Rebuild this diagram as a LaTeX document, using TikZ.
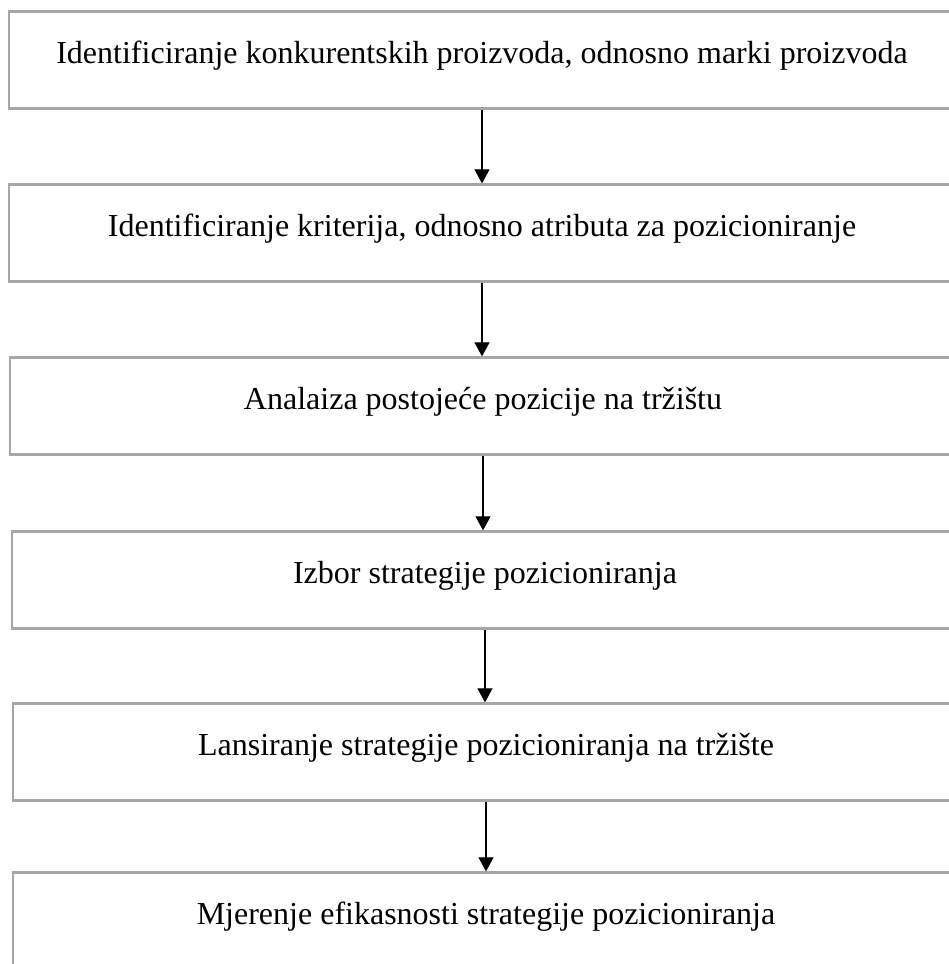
\documentclass[tikz,border=0pt]{standalone}
\usepackage{fontspec}
\setmainfont{Liberation Serif}
\usepackage{tikz}
\usetikzlibrary{arrows.meta}
\definecolor{boxgrey}{HTML}{A6A6A6}

\begin{document}
\begin{tikzpicture}[x=1pt,y=-1pt,
  stepbox/.style={draw=boxgrey,line width=2.3pt,minimum width=946pt,
    minimum height=97pt,inner sep=0pt,font=\fontsize{32}{38}\selectfont,
    text height=22pt,text depth=16pt},
  flow/.style={-{Triangle[length=14pt,width=15pt]},line width=1.2pt}]
  % page frame -- right edges and the last box run off the page
  \useasboundingbox (0,0) rectangle (949,964);
  \clip (0,0) rectangle (949,964);
  % steps -- one box per row
  \foreach \x/\y/\name/\txt in {
      482/60/ident/{Identificiranje konkurentskih proizvoda, odnosno marki proizvoda},
      482/233/krit/{Identificiranje kriterija, odnosno atributa za pozicioniranje},
      483/406/anal/{Analaiza postojeće pozicije na tržištu},
      485/580/izbor/{Izbor strategije pozicioniranja},
      486/752/lans/{Lansiranje strategije pozicioniranja na tržište},
      486/921/mjer/{Mjerenje efikasnosti strategije pozicioniranja}}{
    \node[stepbox] (\name) at (\x,\y) {\txt};}
  % arrows -- straight down between the boxes
  \draw[flow] (ident.south) -- (ident.south |- krit.north);
  \draw[flow] (krit.south) -- (krit.south |- anal.north);
  \draw[flow] (anal.south) -- (anal.south |- izbor.north);
  \draw[flow] (izbor.south) -- (izbor.south |- lans.north);
  \draw[flow] (lans.south) -- (lans.south |- mjer.north);
\end{tikzpicture}
\end{document}
